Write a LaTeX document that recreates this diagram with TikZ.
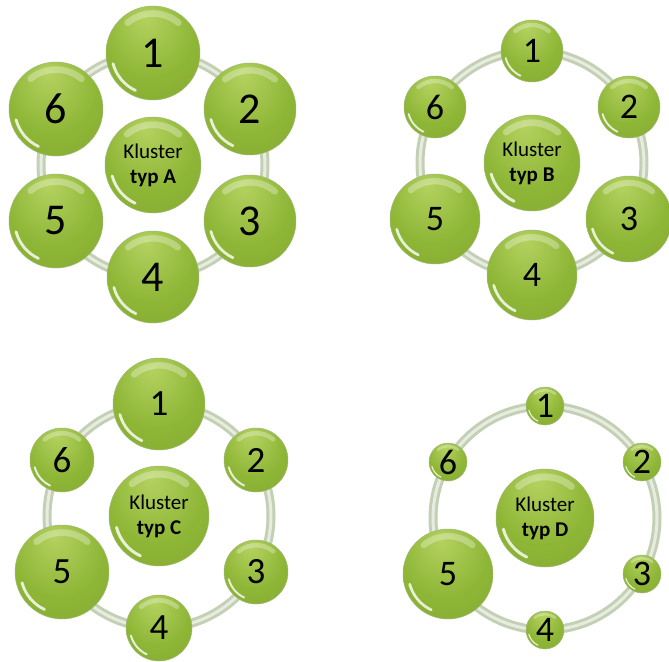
\documentclass[tikz,border=0pt]{standalone}
\usepackage{fontspec}
\setmainfont{Carlito}
\usetikzlibrary{calc}
\definecolor{ballL}{RGB}{180,210,96}
\definecolor{ballM}{RGB}{142,182,54}
\definecolor{ballD}{RGB}{100,138,34}
\definecolor{ringC}{RGB}{196,208,180}
\pgfdeclareradialshading{greenball}{\pgfpoint{-4bp}{20bp}}{color(0bp)=(ballL); color(24bp)=(ballM); color(44bp)=(ballM!92!black); color(50bp)=(ballD)}

\begin{document}
\begin{tikzpicture}[x=1pt,y=-1pt,
  ring/.style={ringC,line width=9pt},
  ringlight/.style={white,opacity=0.6,line width=3pt},
  ball/.style={circle,minimum size={2*#1*1pt},inner sep=0pt,shading=greenball,
    draw=ballD!60,line width=0.5pt,align=center,text=black,
    path picture={
      \draw[white,opacity=0.3,line width={0.14*#1*1pt},line cap=round]
        ([shift={(50:{0.84*#1*1pt})}]path picture bounding box.center)
        arc[start angle=50,end angle=130,radius={0.84*#1*1pt}];
      \draw[white,opacity=0.8,line width={0.06*#1*1pt},line cap=round]
        ([shift={(195:{0.88*#1*1pt})}]path picture bounding box.center)
        arc[start angle=195,end angle=245,radius={0.88*#1*1pt}];
    }},
  label font/.style={font=\fontsize{21}{25}\selectfont},
  digit font/.style={font=\fontsize{#1}{#1}\selectfont}]
  \useasboundingbox (0,0) rectangle (669,661);

  % cluster A
  \coordinate (A) at (153,165);
  \draw[ring] (A) circle (112);
  \draw[ringlight] (A) circle (112);
  \node[ball=48,label font] (A0) at (A) {Kluster\\\textbf{typ A}};
  \foreach \r [count=\i] in {47,46,46,46,47,47} {
    \node[ball=\r,digit font=44] (A\i)
      at ([shift={(150-60*\i:112pt)}]A) {\i};
  }

  % cluster B
  \coordinate (B) at (532,163);
  \draw[ring] (B) circle (112);
  \draw[ringlight] (B) circle (112);
  \node[ball=48,label font] (B0) at (B) {Kluster\\\textbf{typ B}};
  \foreach \r [count=\i] in {31,31,43,45,45,31} {
    \node[ball=\r,digit font=36] (B\i)
      at ([shift={(150-60*\i:112pt)}]B) {\i};
  }

  % cluster C
  \coordinate (C) at (159,516);
  \draw[ring] (C) circle (112);
  \draw[ringlight] (C) circle (112);
  \node[ball=50,label font] (C0) at (C) {Kluster\\\textbf{typ C}};
  \foreach \r [count=\i] in {46,32,32,33,47,32} {
    \node[ball=\r,digit font=37] (C\i)
      at ([shift={(150-60*\i:112pt)}]C) {\i};
  }

  % cluster D
  \coordinate (D) at (545,518);
  \draw[ring] (D) circle (112);
  \draw[ringlight] (D) circle (112);
  \node[ball=49,label font] (D0) at (D) {Kluster\\\textbf{typ D}};
  \foreach \r [count=\i] in {19,19,19,19,45,19} {
    \node[ball=\r,digit font=36] (D\i)
      at ([shift={(150-60*\i:112pt)}]D) {\i};
  }
\end{tikzpicture}
\end{document}
